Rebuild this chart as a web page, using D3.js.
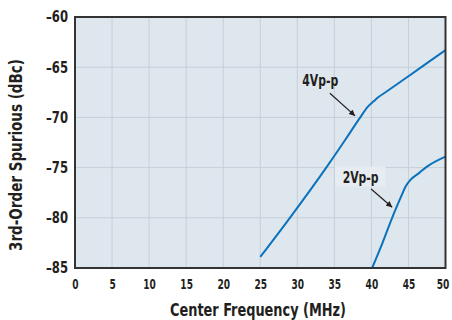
<!DOCTYPE html>
<html>
<head>
<meta charset="utf-8">
<script src="https://cdn.jsdelivr.net/npm/d3@7"></script>
<style>
  html, body { margin: 0; padding: 0; background: #ffffff; }
  svg { display: block; }
  text { font-family: "Liberation Sans Narrow", "Arial Narrow", "DejaVu Sans Condensed", "Liberation Sans", sans-serif; font-weight: bold; fill: #231f20; }
</style>
</head>
<body>
<svg id="chart" width="452" height="320"></svg>
<script>
// ---- data ----
const xTicks = [0, 5, 10, 15, 20, 25, 30, 35, 40, 45, 50];
const yTicks = [-85, -80, -75, -70, -65, -60];
const freq4V = [25, 29, 34, 36.5, 38.4, 39.5, 40.3, 41, 42, 45, 47.5, 50];
const spur4V = [-83.9, -80, -74.9, -72.2, -70.1, -68.95, -68.4, -67.95, -67.45, -65.9, -64.6, -63.3];
const freq2V = [40.1, 41.5, 42.8, 44, 44.6, 45.3, 46.5, 47.5, 50];
const spur2V = [-85, -82.5, -80, -77.9, -76.9, -76.2, -75.5, -74.9, -73.9];
const seriesLabels = ["4Vp-p", "2Vp-p"];
const xTitle = "Center Frequency (MHz)";
const yTitle = "3rd-Order Spurious (dBc)";

// ---- layout ----
const svg = d3.select("#chart");
const L = 75, R = 445.5, T = 17, B = 268;
const x = d3.scaleLinear().domain([0, 50]).range([L, R]);
const y = d3.scaleLinear().domain([-85, -60]).range([B, T]);
const fmt = d => d < 0 ? "\u2013" + Math.abs(d) : String(d);

// plot background
svg.append("rect").attr("x", L).attr("y", T).attr("width", R - L).attr("height", B - T)
  .attr("fill", "#dfe7ee");

// grid lines
const grid = svg.append("g");
grid.selectAll("line.v").data(xTicks.slice(1, -1)).join("line")
  .attr("x1", d => x(d)).attr("x2", d => x(d)).attr("y1", T).attr("y2", B)
  .attr("stroke", "#c6ced7").attr("stroke-width", 1);
grid.selectAll("line.h").data(yTicks.slice(1, -1)).join("line")
  .attr("y1", d => y(d)).attr("y2", d => y(d)).attr("x1", L).attr("x2", R)
  .attr("stroke", "#c6ced7").attr("stroke-width", 1);

// label background box for 2Vp-p
svg.append("rect").attr("x", x(35.1)).attr("y", y(-74.9)).attr("width", x(41.9) - x(35.1))
  .attr("height", y(-76.9) - y(-74.9)).attr("fill", "#e6ecf1");

// axes (labels only)
const xAxis = d3.axisBottom(x).tickValues(xTicks).tickFormat(fmt).tickSize(0).tickPadding(11);
const gx = svg.append("g").attr("transform", `translate(0,${B})`).call(xAxis);
const yAxis = d3.axisLeft(y).tickValues(yTicks).tickFormat(fmt).tickSize(0).tickPadding(7);
const gy = svg.append("g").attr("transform", `translate(${L},0)`).call(yAxis);
[gx, gy].forEach(g => {
  g.select(".domain").remove();
  g.selectAll("text").attr("font-size", 15).attr("font-family", null).attr("fill", "#231f20");
});
gx.selectAll("text").attr("font-size", 14).each(function (d) {
  d3.select(this).attr("textLength", String(d).length * 6.3).attr("lengthAdjust", "spacingAndGlyphs");
});
gx.selectAll("text").filter(d => d === 50).attr("dx", -3);
gy.selectAll("text").attr("textLength", 22).attr("lengthAdjust", "spacingAndGlyphs");

// curves
const line = d3.line().x(d => x(d[0])).y(d => y(d[1])).curve(d3.curveMonotoneX);
const s4 = freq4V.map((f, i) => [f, spur4V[i]]);
const s2 = freq2V.map((f, i) => [f, spur2V[i]]);
[s4, s2].forEach(s => {
  svg.append("path").datum(s).attr("d", line).attr("fill", "none")
    .attr("stroke", "#0b72bd").attr("stroke-width", 2);
});

// frame
svg.append("rect").attr("x", L).attr("y", T).attr("width", R - L).attr("height", B - T)
  .attr("fill", "none").attr("stroke", "#333333").attr("stroke-width", 2);

// arrow marker
svg.append("defs").append("marker").attr("id", "arr").attr("viewBox", "0 0 10 10")
  .attr("refX", 10).attr("refY", 5).attr("markerWidth", 7).attr("markerHeight", 6)
  .attr("markerUnits", "userSpaceOnUse").attr("orient", "auto")
  .append("path").attr("d", "M0,0L10,5L0,10Z").attr("fill", "#231f20");

// annotations
const ann = [
  { label: seriesLabels[0], lx: 33.1, ly: -66.9, a: [34.4, -67.6, 37.8, -69.85] },
  { label: seriesLabels[1], lx: 38.55, ly: -76.55, a: [39.96, -77.13, 42.8, -78.95] }
];
ann.forEach(o => {
  svg.append("text").attr("x", x(o.lx)).attr("y", y(o.ly)).attr("text-anchor", "middle")
    .attr("font-size", 16).attr("textLength", 36).attr("lengthAdjust", "spacingAndGlyphs").text(o.label);
  svg.append("line").attr("x1", x(o.a[0])).attr("y1", y(o.a[1])).attr("x2", x(o.a[2])).attr("y2", y(o.a[3]))
    .attr("stroke", "#231f20").attr("stroke-width", 1.2).attr("marker-end", "url(#arr)");
});

// axis titles
svg.append("text").attr("x", 258).attr("y", 316).attr("text-anchor", "middle")
  .attr("font-size", 17).attr("textLength", 176).attr("lengthAdjust", "spacingAndGlyphs").text(xTitle);
svg.append("text").attr("transform", "translate(22,155) rotate(-90)").attr("text-anchor", "middle")
  .attr("font-size", 17).attr("textLength", 192).attr("lengthAdjust", "spacingAndGlyphs").text(yTitle);
</script>
</body>
</html>
